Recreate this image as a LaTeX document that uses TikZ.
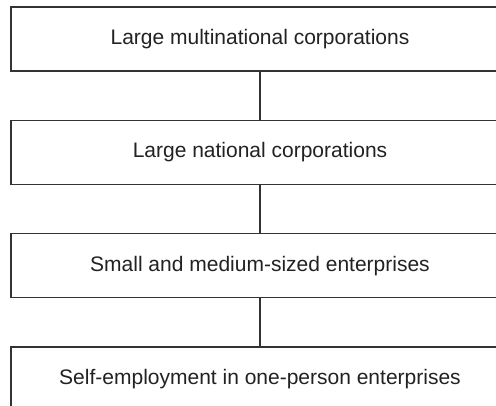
\documentclass[tikz,border=0pt]{standalone}
\usepackage{fontspec}
\setmainfont{Liberation Sans}
\usetikzlibrary{positioning}
\definecolor{framegray}{HTML}{333333}
\definecolor{textgray}{HTML}{222222}
\tikzset{
  tierbox/.style={draw=framegray,line width=1.3pt,fill=white,align=center,minimum width=498pt,minimum height=64pt,inner sep=0pt,text=textgray,font=\fontsize{21}{24}\selectfont},
  link/.style={draw=framegray,line width=1.1pt}
}
\begin{document}
\begin{tikzpicture}[node distance=48pt]
  \useasboundingbox (0pt,0pt) rectangle (496pt,-405pt);
  \clip (0pt,0pt) rectangle (496pt,-405pt);
  \node[tierbox] (multinational) at (260pt,-39pt) {Large multinational corporations};
  \node[tierbox,below=of multinational] (national) {Large national corporations};
  \node[tierbox,below=of national] (sme) {Small and medium-sized enterprises};
  \node[tierbox,below=of sme] (selfemployed) {Self-employment in one-person enterprises};
  \draw[link] (multinational) -- (national);
  \draw[link] (national) -- (sme);
  \draw[link] (sme) -- (selfemployed);
\end{tikzpicture}
\end{document}
